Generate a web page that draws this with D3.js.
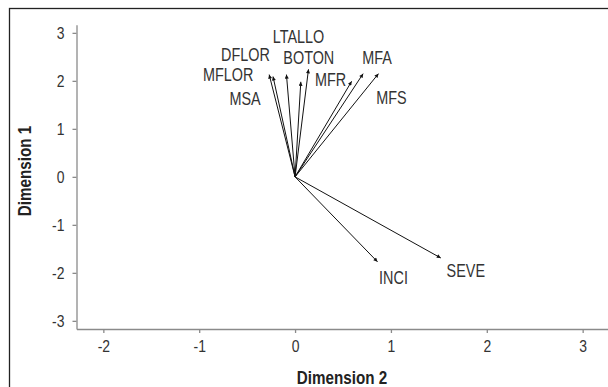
<!DOCTYPE html>
<html>
<head>
<meta charset="utf-8">
<script src="https://cdn.jsdelivr.net/npm/d3@7"></script>
<style>
  html, body { margin: 0; padding: 0; background: #fff; }
  svg { display: block; font-family: "Liberation Sans", Arial, sans-serif; }
  .axis path, .axis line { stroke: #8a8a8a; stroke-width: 1.3; }
  .axis text { fill: #333; font-size: 17px; font-family: "Liberation Sans", Arial, sans-serif; }
  .vec { stroke: #111; stroke-width: 1; }
  .lab { fill: #333; font-size: 18px; }
  .title { fill: #222; font-size: 19px; font-weight: bold; }
</style>
</head>
<body>
<div id="container"></div>
<script>
// variables and their coordinates on the two dimensions
var variables = ["MFLOR", "MSA", "DFLOR", "BOTON", "LTALLO", "MFR", "MFA", "MFS", "INCI", "SEVE"];
var dim2 = [-0.27, -0.23, -0.09, 0.06, 0.14, 0.59, 0.71, 0.87, 0.86, 1.52];
var dim1 = [2.13, 2.09, 2.13, 1.98, 2.24, 1.99, 2.15, 2.15, -1.77, -1.69];

var xTicks = [-2, -1, 0, 1, 2, 3];
var yTicks = [-3, -2, -1, 0, 1, 2, 3];

// where each label sits relative to its arrow tip (px)
var labelOffset = {
    MFLOR: [-41, 0], MSA: [-28, 22], DFLOR: [-41, -20], BOTON: [8, -24],
    LTALLO: [-10, -33], MFR: [-21, -2], MFA: [14, -16], MFS: [13, 24],
    INCI: [16, 16], SEVE: [25, 13]
};

var W = 608, H = 387;

// the figure uses a condensed face, so squeeze the text horizontally
var squeeze = function (sel, k) {
    sel.each(function () {
        var len = this.getComputedTextLength();
        d3.select(this).attr("textLength", len * k).attr("lengthAdjust", "spacingAndGlyphs");
    });
};

var drawChart = function () {
    var svg = d3.select("#container").append("svg")
        .attr("width", W)
        .attr("height", H);

    // outer frame (cut at right and bottom like the figure)
    svg.append("rect")
        .attr("x", 9.5).attr("y", 8.5)
        .attr("width", 620).attr("height", 400)
        .attr("fill", "none")
        .attr("stroke", "#222")
        .attr("stroke-width", 1.3);

    var x = d3.scaleLinear().domain([-2.28, 3.4]).range([76.5, 621]);
    var y = d3.scaleLinear().domain([-3.17, 3.17]).range([329, 24.7]);

    var xAxis = svg.append("g")
        .attr("class", "axis")
        .attr("transform", "translate(0," + y(-3.17) + ")")
        .call(d3.axisBottom(x).tickValues(xTicks).tickSize(4).tickPadding(6).tickSizeOuter(0));
    xAxis.selectAll("text").attr("dy", "0.75em");

    var yAxis = svg.append("g")
        .attr("class", "axis")
        .attr("transform", "translate(" + x(-2.28) + ",0)")
        .call(d3.axisLeft(y).tickValues(yTicks).tickSize(4).tickPadding(8).tickSizeOuter(0));

    svg.selectAll(".axis text").text(function (d) { return d < 0 ? "-" + Math.abs(d) : d; });
    squeeze(svg.selectAll(".axis text"), 0.82);

    svg.append("defs").append("marker")
        .attr("id", "head")
        .attr("viewBox", "0 0 10 10")
        .attr("refX", 10).attr("refY", 5)
        .attr("markerWidth", 5).attr("markerHeight", 4)
        .attr("markerUnits", "userSpaceOnUse")
        .attr("orient", "auto")
        .append("path")
        .attr("d", "M0,0 L10,5 L0,10 Z")
        .attr("fill", "#111");

    var rows = variables.map(function (v, i) {
        return { name: v, d2: dim2[i], d1: dim1[i] };
    });

    svg.selectAll("line.vec")
        .data(rows)
        .enter().append("line")
        .attr("class", "vec")
        .attr("x1", x(0)).attr("y1", y(0))
        .attr("x2", function (d) { return x(d.d2); })
        .attr("y2", function (d) { return y(d.d1); })
        .attr("marker-end", "url(#head)");

    var labs = svg.selectAll("text.lab")
        .data(rows)
        .enter().append("text")
        .attr("class", "lab")
        .attr("x", function (d) { return x(d.d2) + labelOffset[d.name][0]; })
        .attr("y", function (d) { return y(d.d1) + labelOffset[d.name][1]; })
        .attr("text-anchor", "middle")
        .attr("dy", "0.36em")
        .text(function (d) { return d.name; });
    squeeze(labs, 0.8);

    var t2 = svg.append("text")
        .attr("class", "title")
        .attr("x", 342).attr("y", 377)
        .attr("text-anchor", "middle")
        .attr("dy", "0.36em")
        .text("Dimension 2");

    var t1 = svg.append("text")
        .attr("class", "title")
        .attr("transform", "translate(24,171) rotate(-90)")
        .attr("text-anchor", "middle")
        .attr("dy", "0.36em")
        .text("Dimension 1");
    squeeze(svg.selectAll(".title"), 0.8);
};

window.onload = drawChart;
</script>
</body>
</html>
